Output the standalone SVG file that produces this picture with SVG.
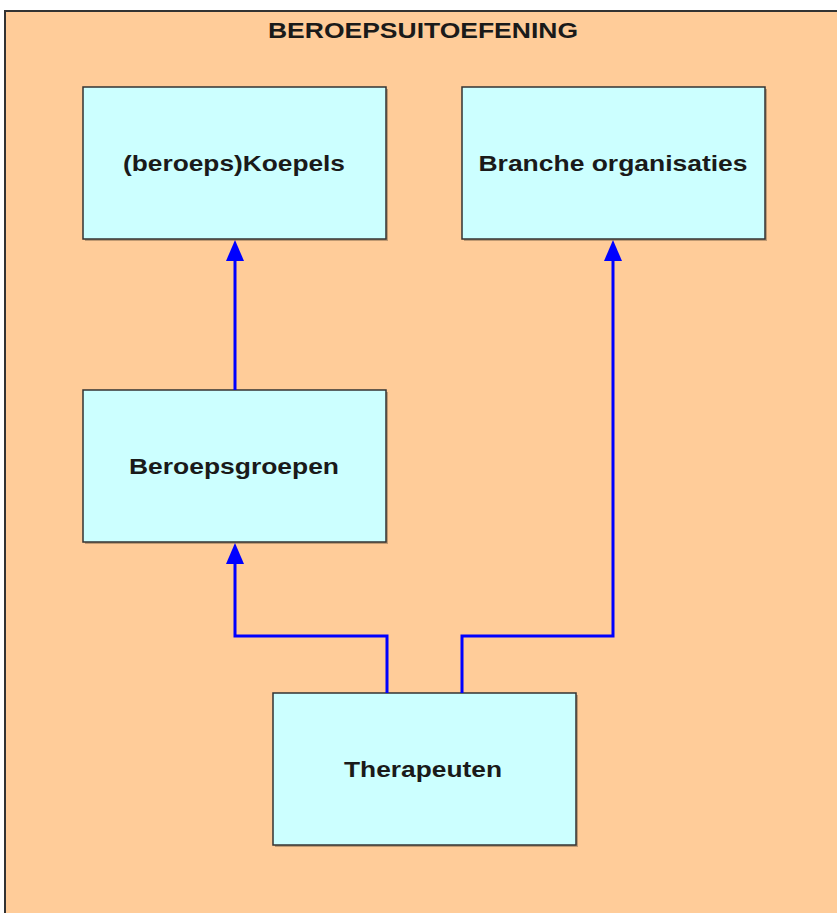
<svg xmlns="http://www.w3.org/2000/svg" width="837" height="913" viewBox="0 0 837 913">
<defs>
<style>
.frame{fill:#FFCC99;stroke:#333;stroke-width:2}
.box{fill:#CCFFFF;stroke:#333;stroke-width:1.5}
.shadow{fill:#000;opacity:0.25}
.lbl{font-family:"Liberation Sans",Arial,sans-serif;font-weight:bold;font-size:22px;fill:#1a1a1a;text-anchor:middle}
.conn{fill:none;stroke:#0000FF;stroke-width:3}
</style>
</defs>
<rect class="frame" x="5" y="11" width="840" height="910"/>
<text class="lbl" x="423" y="38" textLength="310" lengthAdjust="spacingAndGlyphs">BEROEPSUITOEFENING</text>
<g id="koepels">
<rect class="shadow" x="85" y="89" width="303" height="152"/>
<rect class="box" x="83" y="87" width="303" height="152"/>
<text class="lbl" x="234" y="171" textLength="222" lengthAdjust="spacingAndGlyphs">(beroeps)Koepels</text>
</g>
<g id="branche">
<rect class="shadow" x="464" y="89" width="303" height="152"/>
<rect class="box" x="462" y="87" width="303" height="152"/>
<text class="lbl" x="613" y="171" textLength="269" lengthAdjust="spacingAndGlyphs">Branche organisaties</text>
</g>
<g id="beroepsgroepen">
<rect class="shadow" x="85" y="392" width="303" height="152"/>
<rect class="box" x="83" y="390" width="303" height="152"/>
<text class="lbl" x="234" y="474" textLength="210" lengthAdjust="spacingAndGlyphs">Beroepsgroepen</text>
</g>
<g id="therapeuten">
<rect class="shadow" x="275" y="695" width="303" height="152"/>
<rect class="box" x="273" y="693" width="303" height="152"/>
<text class="lbl" x="423" y="777" textLength="158" lengthAdjust="spacingAndGlyphs">Therapeuten</text>
</g>
<g id="connectors">
<path class="conn" d="M235,390 V258" />
<path d="M235,240 L244,261 L226,261 Z" fill="#0000FF"/>
<path class="conn" d="M387,693 V636 H235 V560" />
<path d="M235,543 L244,564 L226,564 Z" fill="#0000FF"/>
<path class="conn" d="M462,693 V636 H613 V258" />
<path d="M613,240 L622,261 L604,261 Z" fill="#0000FF"/>
</g>
</svg>
